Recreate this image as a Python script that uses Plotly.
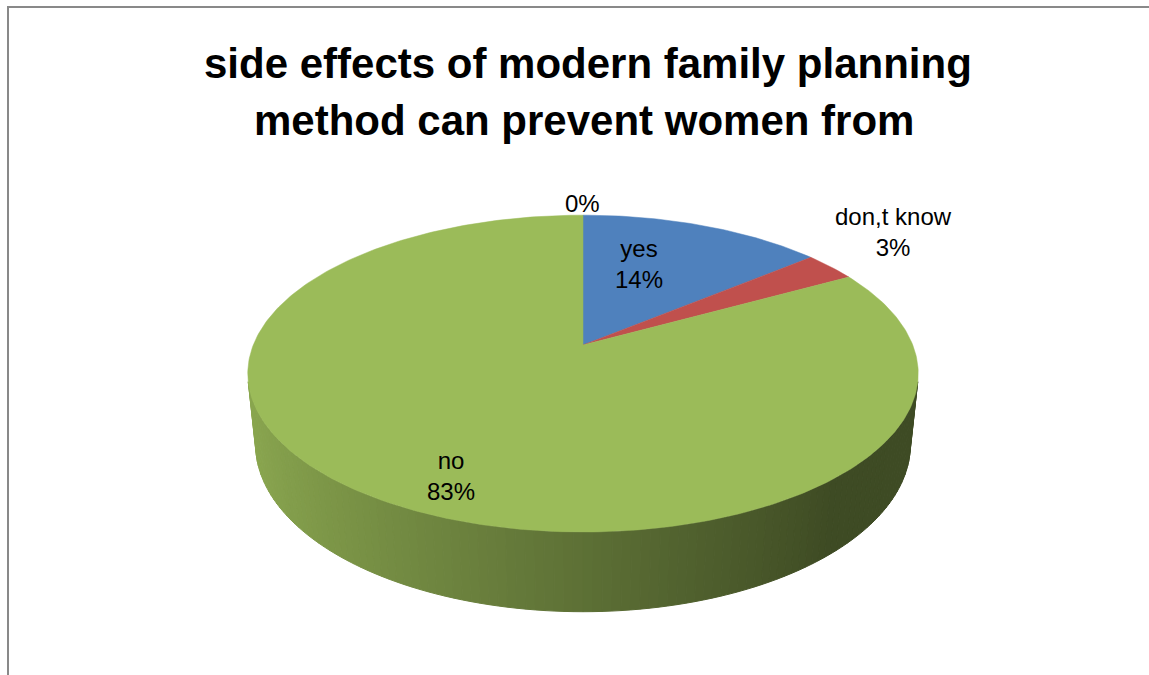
import numpy as np
import plotly.graph_objects as go

# ---------------- data ----------------
categories = ["yes", "don,t know", "no", ""]
values = [14, 3, 83, 0]
slice_colors = ["#4F81BD", "#C0504D", "#9BBB59", "#8064A2"]
title_lines = ["side effects of modern family planning",
               "method can prevent women from"]

# ---------------- styling / geometry ----------------
W, Hpx = 1149, 675
ALPHA = np.radians(27.7)       # camera elevation
DIST = 4.91                    # camera distance (in pie radii)
FOC = 1619.0                   # focal length (px)
DEPTH = 0.245                  # pie thickness (in radii)
CX, CY = 583.0, 345.0          # projected pie centre (px)
LABEL_XY = [(639, 264), (893, 232), (451, 476), (582, 203)]
LABEL_FONT = dict(family="Liberation Sans, Arial, sans-serif", size=24, color="#000000")
TITLE_FONT = dict(family="Liberation Sans, Arial, sans-serif", size=42, color="#000000")

ca, sa = np.cos(ALPHA), np.sin(ALPHA)


def proj(phi, r=1.0, z=0.0):
    den = DIST + ca * r * np.sin(phi) - sa * z
    X = FOC * r * np.cos(phi) / den
    Y = FOC * (sa * r * np.sin(phi) + ca * z) / den
    return CX + X, CY - Y


def hex_to_rgb(h):
    h = h.lstrip("#")
    return tuple(int(h[i:i + 2], 16) for i in (0, 2, 4))


total = float(sum(values))
bounds = []
start = np.pi / 2
for v in values:
    sweep = 2 * np.pi * v / total
    bounds.append((start, start - sweep))
    start -= sweep


def slice_of(phi):
    a = (np.pi / 2 - phi) % (2 * np.pi)
    acc = 0.0
    for i, v in enumerate(values):
        acc += 2 * np.pi * v / total
        if a < acc and v > 0:
            return i
    return len(values) - 1


fig = go.Figure()

# ---------- side wall (front facing part only) ----------
lim = np.arcsin(min(1.0, 1.0 / (DIST * ca)))
phi_a, phi_b = np.pi + lim, 2 * np.pi - lim
n_strips = 110
edges = np.linspace(phi_a, phi_b, n_strips + 1)
for k in range(n_strips):
    p1, p2 = edges[k], edges[k + 1]
    pm = 0.5 * (p1 + p2)
    base = hex_to_rgb(slice_colors[slice_of(pm)])
    f = max(0.40, 0.60 - 0.30 * np.cos(pm))
    col = "rgb(%d,%d,%d)" % tuple(int(round(c * f)) for c in base)
    ph = np.linspace(p1, p2, 4)
    tx, ty = proj(ph, 1.0, 0.0)
    bx, by = proj(ph[::-1], 1.0, -DEPTH)
    xs = np.concatenate([tx, bx, tx[:1]])
    ys = np.concatenate([ty, by, ty[:1]])
    fig.add_trace(go.Scatter(x=xs, y=ys, mode="lines", fill="toself",
                             fillcolor=col, line=dict(color=col, width=1),
                             hoverinfo="skip", showlegend=False))

# ---------- top face slices ----------
for i, (cat, v) in enumerate(zip(categories, values)):
    if v <= 0:
        continue
    a0, a1 = bounds[i]
    n = max(8, int(abs(a0 - a1) / (2 * np.pi) * 400))
    ph = np.linspace(a0, a1, n)
    ax_, ay_ = proj(ph)
    xs = np.concatenate([[CX], ax_, [CX]])
    ys = np.concatenate([[CY], ay_, [CY]])
    fig.add_trace(go.Scatter(x=xs, y=ys, mode="lines", fill="toself",
                             fillcolor=slice_colors[i],
                             line=dict(color=slice_colors[i], width=0.5),
                             name=cat, hoverinfo="name", showlegend=False))

# ---------- data labels ----------
annotations = []
for cat, v, (lx, ly) in zip(categories, values, LABEL_XY):
    pct = "%d%%" % round(100 * v / total)
    txt = pct if cat == "" else f"{cat}<br>{pct}"
    annotations.append(dict(x=lx, y=ly, xref="x", yref="y", text=txt,
                            showarrow=False, font=LABEL_FONT,
                            xanchor="center", yanchor="middle", align="center"))

# ---------- title ----------
annotations.append(dict(x=588, y=63, xref="x", yref="y", text="<b>%s</b>" % title_lines[0],
                        showarrow=False, font=TITLE_FONT, xanchor="center", yanchor="middle"))
annotations.append(dict(x=584, y=120, xref="x", yref="y", text="<b>%s</b>" % title_lines[1],
                        showarrow=False, font=TITLE_FONT, xanchor="center", yanchor="middle"))

fig.update_layout(
    width=W, height=Hpx,
    margin=dict(l=0, r=0, t=0, b=0),
    paper_bgcolor="white", plot_bgcolor="white",
    xaxis=dict(range=[0, W], visible=False, fixedrange=True),
    yaxis=dict(range=[Hpx, 0], visible=False, fixedrange=True),
    showlegend=False,
    annotations=annotations,
    shapes=[dict(type="rect", xref="x", yref="y", x0=8, y0=7, x1=W + 40, y1=Hpx + 40,
                 line=dict(color="#898989", width=2), fillcolor="rgba(0,0,0,0)",
                 layer="below")],
)

fig.write_html("out.html")
